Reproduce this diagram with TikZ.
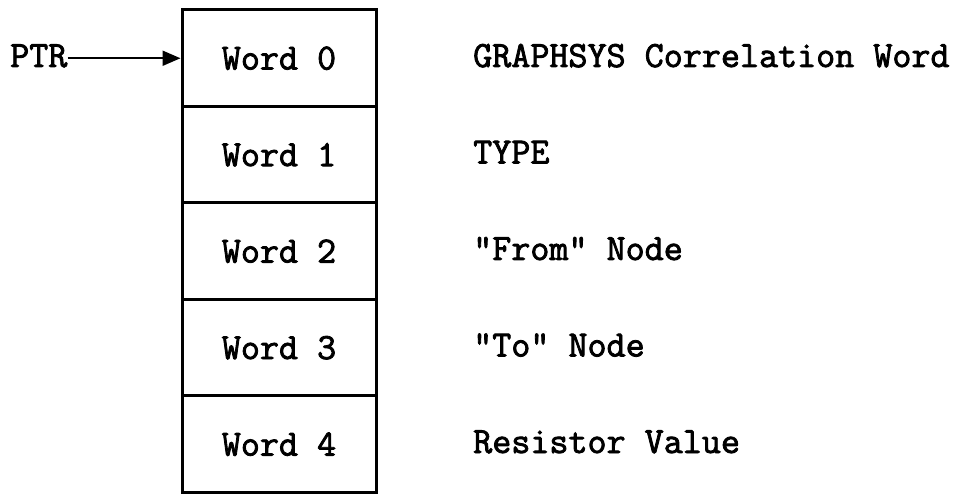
\documentclass[tikz,border=0pt]{standalone}
\usepackage{fontspec}
\newfontfamily\reffont[FakeBold=2.2]{lmmono12-regular.otf}
\usetikzlibrary{arrows.meta}
\begin{document}
\begin{tikzpicture}[x=1pt,y=-1pt,
  txt/.style={font=\fontsize{37}{40}\reffont, inner sep=0pt},
  cell/.style={txt, draw, line width=3pt, minimum width=194pt, minimum height=96.5pt},
  lab/.style={txt, anchor=base west},
  ptrarrow/.style={line width=2pt, -{Triangle[length=18pt,width=15pt]}}]
\useasboundingbox (0,0) rectangle (967,494);
\node[cell] (c0) at (279,58.25) {Word 0};
\node[cell] (c1) at (279,154.75) {Word 1};
\node[cell] (c2) at (279,251.25) {Word 2};
\node[cell] (c3) at (279,347.75) {Word 3};
\node[cell] (c4) at (279,444.25) {Word 4};
\node[lab] (ptr) at (10,67) {PTR};
\coordinate (pe) at (ptr.east |- c0.west);
\draw[ptrarrow] (pe) -- (c0.west);
\node[lab] (l0) at (473,67) {GRAPHSYS Correlation Word};
\node[lab] (l1) at (473,163.5) {TYPE};
\node[lab] (l2) at (473,260) {"From" Node};
\node[lab] (l3) at (473,356.5) {"To" Node};
\node[lab] (l4) at (473,453) {Resistor Value};
\end{tikzpicture}
\end{document}
